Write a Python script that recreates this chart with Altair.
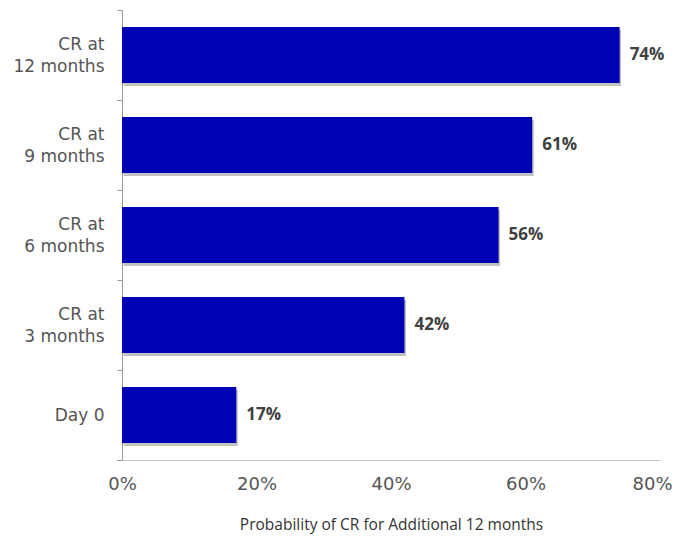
import altair as alt
import pandas as pd

NB = "\u00a0"
categories = ["CR at 12 months", "CR at 9 months", "CR at 6 months", "CR at 3 months", "Day 0"]
line1 = ["CR at" + NB * 4, "CR at" + NB * 3, "CR at" + NB * 3, "CR at" + NB * 3, ""]
line2 = ["12 months", "9 months", "6 months", "3 months", "Day 0"]
values = [74, 61, 56, 42, 17]
x_ticks = [0, 20, 40, 60, 80]

df = pd.DataFrame({"cat": categories, "value": values, "label": [f"{v}%" for v in values]})


def lines_expr(l1, l2):
    return f"['{l1}', '{l2}']" if l1 else f"'{l2}'"


label_expr = " : ".join(
    [f"datum.label == '{c}' ? {lines_expr(l1, l2)}" for c, l1, l2 in zip(categories, line1, line2)]
) + " : datum.label"

y_enc = alt.Y(
    "cat:N",
    sort=categories,
    scale=alt.Scale(paddingInner=0, paddingOuter=0),
    axis=alt.Axis(
        title=None,
        labelExpr=label_expr,
        labelFont="DejaVu Sans",
        labelFontSize=17,
        labelColor="#555555",
        labelAlign="right",
        labelPadding=13,
        labelLineHeight=22,
        labelOffset={"condition": {"test": "datum.value == 'Day 0'", "value": 0}, "value": -11},
        tickSize=5,
        tickColor="#999999",
        tickBand="extent",
        domainColor="#999999",
    ),
)

x_enc = alt.X(
    "value:Q",
    scale=alt.Scale(domain=[0, 80], nice=False),
    axis=alt.Axis(
        values=x_ticks,
        labelExpr="datum.value + '%'",
        labelFont="DejaVu Sans",
        labelFontSize=18,
        labelColor="#555555",
        labelPadding=15,
        labelFlush=False,
        labelOffset={"condition": {"test": "datum.value == 80", "value": -8}, "value": 0},
        ticks=False,
        grid=False,
        domainColor="#c8c8c8",
        title="Probability of CR for Additional 12 months",
        titleFont="Open Sans",
        titleFontSize=15.5,
        titleFontWeight="normal",
        titleColor="#333333",
        titlePadding=24,
    ),
)

base = alt.Chart(df)
band = {"band": 0.622}

shadow = base.mark_bar(color="#777777", opacity=0.45, yOffset=3, xOffset=1.5, height=band).encode(y=y_enc, x=x_enc)
bars = base.mark_bar(color="#0000B4", height=band).encode(y=y_enc, x=x_enc)
text = base.mark_text(
    align="left", baseline="middle", dx=10, font="Open Sans", fontWeight="bold", fontSize=17, color="#404040"
).encode(y=y_enc, x=x_enc, text="label:N")

chart = (
    alt.layer(shadow, bars, text)
    .properties(
        width=538,
        height=450,
        autosize=alt.AutoSizeParams(type="none"),
        padding={"left": 114, "top": 2, "right": 14, "bottom": 74},
    )
    .configure_view(stroke=None)
)

chart.save("out.html", embed_options={"renderer": "svg", "actions": False})
